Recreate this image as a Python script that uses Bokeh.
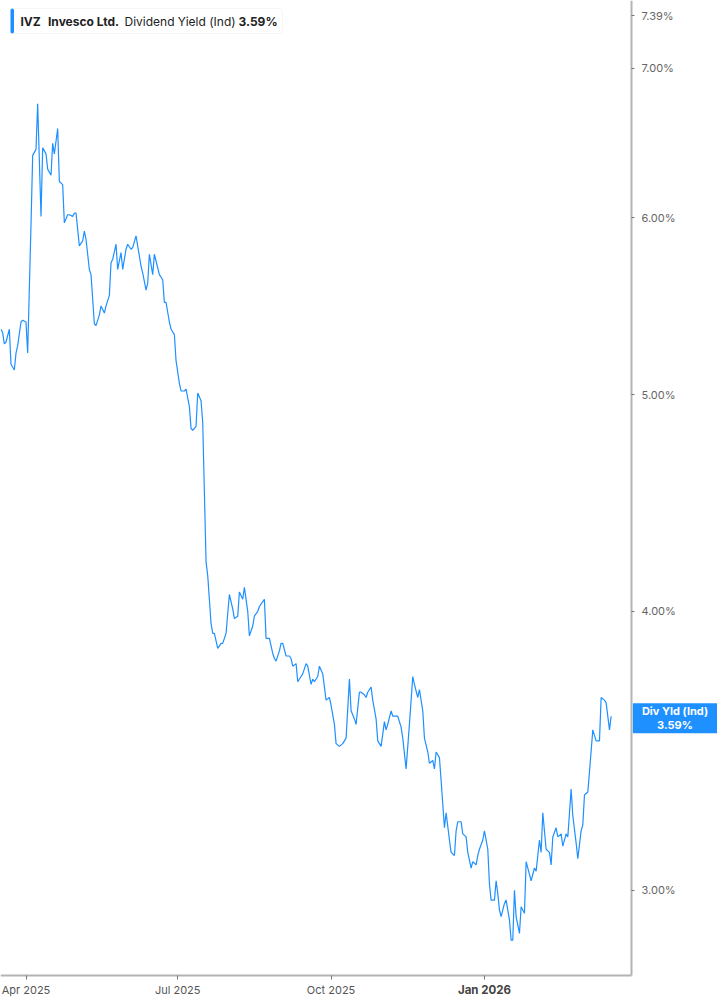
import math
import pandas as pd
from bokeh.plotting import figure
from bokeh.models import (ColumnDataSource, FixedTicker, PrintfTickFormatter,
                          DatetimeTickFormatter, Range1d, Label, BoxAnnotation)
from bokeh.embed import file_html
from bokeh.resources import INLINE

# ---------------- data ----------------
dates = [
    "2025-03-17", "2025-03-18", "2025-03-19", "2025-03-20", "2025-03-22", "2025-03-23",
    "2025-03-25", "2025-03-26", "2025-03-27", "2025-03-29", "2025-03-30", "2025-04-01",
    "2025-04-02", "2025-04-04", "2025-04-05", "2025-04-07", "2025-04-08", "2025-04-10",
    "2025-04-11", "2025-04-13", "2025-04-14", "2025-04-16", "2025-04-17", "2025-04-18",
    "2025-04-20", "2025-04-21", "2025-04-23", "2025-04-24", "2025-04-26", "2025-04-27",
    "2025-04-29", "2025-04-30", "2025-05-01", "2025-05-03", "2025-05-05", "2025-05-06",
    "2025-05-07", "2025-05-09", "2025-05-10", "2025-05-12", "2025-05-13", "2025-05-15",
    "2025-05-16", "2025-05-18", "2025-05-19", "2025-05-21", "2025-05-22", "2025-05-23",
    "2025-05-25", "2025-05-26", "2025-05-28", "2025-05-29", "2025-05-31", "2025-06-01",
    "2025-06-03", "2025-06-04", "2025-06-06", "2025-06-07", "2025-06-09", "2025-06-10",
    "2025-06-12", "2025-06-13", "2025-06-14", "2025-06-16", "2025-06-17", "2025-06-19",
    "2025-06-20", "2025-06-22", "2025-06-23", "2025-06-24", "2025-06-26", "2025-06-27",
    "2025-06-29", "2025-06-30", "2025-07-02", "2025-07-03", "2025-07-05", "2025-07-06",
    "2025-07-08", "2025-07-09", "2025-07-10", "2025-07-12", "2025-07-13", "2025-07-15",
    "2025-07-16", "2025-07-18", "2025-07-19", "2025-07-21", "2025-07-22", "2025-07-23",
    "2025-07-25", "2025-07-27", "2025-07-28", "2025-07-30", "2025-07-31", "2025-08-01",
    "2025-08-03", "2025-08-04", "2025-08-06", "2025-08-07", "2025-08-09", "2025-08-10",
    "2025-08-12", "2025-08-13", "2025-08-15", "2025-08-16", "2025-08-18", "2025-08-19",
    "2025-08-21", "2025-08-22", "2025-08-23", "2025-08-25", "2025-08-26", "2025-08-27",
    "2025-08-28", "2025-08-29", "2025-08-31", "2025-09-01", "2025-09-02", "2025-09-04",
    "2025-09-06", "2025-09-07", "2025-09-08", "2025-09-10", "2025-09-11", "2025-09-13",
    "2025-09-14", "2025-09-16", "2025-09-17", "2025-09-19", "2025-09-20", "2025-09-21",
    "2025-09-23", "2025-09-24", "2025-09-26", "2025-09-27", "2025-09-28", "2025-09-30",
    "2025-10-01", "2025-10-03", "2025-10-04", "2025-10-06", "2025-10-08", "2025-10-09",
    "2025-10-10", "2025-10-12", "2025-10-13", "2025-10-15", "2025-10-16", "2025-10-18",
    "2025-10-19", "2025-10-21", "2025-10-22", "2025-10-23", "2025-10-25", "2025-10-26",
    "2025-10-28", "2025-10-29", "2025-10-31", "2025-11-02", "2025-11-03", "2025-11-04",
    "2025-11-06", "2025-11-07", "2025-11-09", "2025-11-10", "2025-11-12", "2025-11-13",
    "2025-11-15", "2025-11-16", "2025-11-17", "2025-11-19", "2025-11-20", "2025-11-22",
    "2025-11-23", "2025-11-25", "2025-11-26", "2025-11-28", "2025-11-29", "2025-12-01",
    "2025-12-02", "2025-12-03", "2025-12-05", "2025-12-06", "2025-12-08", "2025-12-09",
    "2025-12-11", "2025-12-12", "2025-12-14", "2025-12-15", "2025-12-16", "2025-12-18",
    "2025-12-19", "2025-12-21", "2025-12-22", "2025-12-24", "2025-12-25", "2025-12-27",
    "2025-12-28", "2025-12-29", "2025-12-31", "2026-01-01", "2026-01-03", "2026-01-04",
    "2026-01-05", "2026-01-07", "2026-01-08", "2026-01-09", "2026-01-10", "2026-01-11",
    "2026-01-13", "2026-01-14", "2026-01-16", "2026-01-17", "2026-01-18", "2026-01-19",
    "2026-01-20", "2026-01-22", "2026-01-23", "2026-01-25", "2026-01-26", "2026-01-28",
    "2026-01-29", "2026-01-31", "2026-02-01", "2026-02-03", "2026-02-04", "2026-02-05",
    "2026-02-07", "2026-02-09", "2026-02-10", "2026-02-11", "2026-02-13", "2026-02-14",
    "2026-02-16", "2026-02-17", "2026-02-19", "2026-02-20", "2026-02-22", "2026-02-23",
    "2026-02-25", "2026-02-26", "2026-02-28", "2026-03-01", "2026-03-02", "2026-03-04",
    "2026-03-05", "2026-03-07", "2026-03-08", "2026-03-09", "2026-03-11", "2026-03-12",
    "2026-03-14", "2026-03-15", "2026-03-17", "2026-03-18",
]
yields = [
    5.35, 5.33, 5.27, 5.28, 5.35, 5.16,
    5.13, 5.22, 5.26, 5.39, 5.40, 5.39,
    5.22, 5.96, 6.40, 6.44, 6.75, 6.01,
    6.45, 6.41, 6.31, 6.27, 6.48, 6.41,
    6.58, 6.23, 6.21, 5.97, 6.02, 6.02,
    6.01, 6.03, 6.03, 5.83, 5.86, 5.92,
    5.87, 5.69, 5.66, 5.38, 5.37, 5.43,
    5.48, 5.44, 5.48, 5.54, 5.73, 5.75,
    5.84, 5.69, 5.79, 5.69, 5.81, 5.84,
    5.81, 5.82, 5.89, 5.83, 5.71, 5.67,
    5.57, 5.61, 5.78, 5.66, 5.78, 5.70,
    5.66, 5.63, 5.50, 5.50, 5.39, 5.35,
    5.32, 5.18, 5.06, 5.02, 5.02, 5.03,
    4.94, 4.83, 4.82, 4.84, 5.01, 4.97,
    4.86, 4.21, 4.15, 3.95, 3.91, 3.91,
    3.85, 3.87, 3.87, 3.91, 3.99, 4.07,
    4.01, 3.97, 3.98, 4.08, 4.05, 4.10,
    4.00, 3.90, 3.94, 3.98, 4.00, 4.02,
    4.04, 4.05, 3.89, 3.89, 3.86, 3.83,
    3.81, 3.80, 3.84, 3.87, 3.87, 3.82,
    3.82, 3.81, 3.78, 3.79, 3.72, 3.74,
    3.75, 3.79, 3.78, 3.71, 3.73, 3.72,
    3.74, 3.78, 3.75, 3.70, 3.65, 3.66,
    3.63, 3.56, 3.49, 3.48, 3.49, 3.50,
    3.51, 3.73, 3.61, 3.58, 3.56, 3.68,
    3.68, 3.67, 3.66, 3.68, 3.70, 3.65,
    3.58, 3.50, 3.48, 3.57, 3.54, 3.56,
    3.61, 3.59, 3.59, 3.59, 3.55, 3.51,
    3.40, 3.48, 3.56, 3.74, 3.71, 3.66,
    3.69, 3.61, 3.51, 3.46, 3.42, 3.43,
    3.40, 3.46, 3.44, 3.36, 3.20, 3.25,
    3.16, 3.12, 3.11, 3.19, 3.22, 3.22,
    3.18, 3.17, 3.12, 3.07, 3.09, 3.08,
    3.11, 3.13, 3.16, 3.19, 3.13, 3.02,
    2.97, 2.97, 3.03, 2.99, 2.94, 2.92,
    2.96, 2.97, 2.91, 2.85, 2.85, 3.00,
    2.92, 2.87, 2.95, 2.93, 3.09, 3.05,
    3.03, 3.07, 3.06, 3.16, 3.12, 3.25,
    3.13, 3.12, 3.08, 3.17, 3.20, 3.17,
    3.18, 3.14, 3.18, 3.17, 3.33, 3.24,
    3.15, 3.10, 3.19, 3.21, 3.31, 3.32,
    3.39, 3.54, 3.52, 3.50, 3.50, 3.66,
    3.65, 3.64, 3.54, 3.59,
]

symbol = "IVZ"
company = "Invesco Ltd."
metric = "Dividend Yield (Ind)"
short_metric = "Div Yld (Ind)"

y_ticks = [3.0, 4.0, 5.0, 6.0, 7.0, 7.39]
x_tick_dates = ["2025-04-01", "2025-07-01", "2025-10-01", "2026-01-01"]
x_tick_labels = ["Apr 2025", "Jul 2025", "Oct 2025", "Jan 2026"]
bold_x_label = "Jan 2026"

# visible axis extent (dates / yield)
x_start, x_axis_end = "2025-03-16 16:48", "2026-03-30 05:00"
y_min, y_max = 2.748, 7.508

# ---------------- layout / style ----------------
W, H = 717, 1005
AXIS_X_PX = 631      # right axis position (px from left)
AXIS_Y_PX = 975      # bottom axis position (px from top)
BLUE = "#1E90FF"
FONT = "Inter"
AXIS_GREY = "#b4b4b4"
LABEL_GREY = "#666666"

last_value = yields[-1]

# the frame covers the whole canvas; axes are pinned at fixed locations inside it
start_ms = pd.Timestamp(x_start).value / 1e6
axis_end_ms = pd.Timestamp(x_axis_end).value / 1e6
range_end_ms = axis_end_ms + (W - AXIS_X_PX) / AXIS_X_PX * (axis_end_ms - start_ms)
log_span = math.log(y_max) - math.log(y_min)
range_low = math.exp(math.log(y_min) - (H - AXIS_Y_PX) / AXIS_Y_PX * log_span)

src = ColumnDataSource(dict(date=pd.to_datetime(dates), yld=yields))

p = figure(
    width=W, height=H,
    x_axis_type="datetime", y_axis_type="log", y_axis_location="right",
    x_range=Range1d(start_ms, range_end_ms),
    y_range=Range1d(range_low, y_max),
    output_backend="svg", toolbar_location=None, min_border=0,
)
p.outline_line_color = None
p.background_fill_color = "white"
p.border_fill_color = "white"
p.xgrid.visible = False
p.ygrid.visible = False

p.line("date", "yld", source=src, line_color=BLUE, line_width=1.2)

# y axis (right, log), pinned at the end date
ya = p.yaxis[0]
ya.fixed_location = axis_end_ms
ya.bounds = (y_min, y_max)
ya.ticker = FixedTicker(ticks=y_ticks)
ya.formatter = PrintfTickFormatter(format="%.2f%%")
ya.axis_line_color = AXIS_GREY
ya.axis_line_width = 2
ya.major_tick_out = 3
ya.major_tick_in = 0
ya.major_tick_line_color = "#777777"
ya.minor_tick_line_color = None
ya.major_label_standoff = 7
ya.major_label_text_font = FONT
ya.major_label_text_font_size = "11px"
ya.major_label_text_color = LABEL_GREY

# x axis (bottom, dates), pinned at the lowest yield of the axis
tick_ms = [pd.Timestamp(d).value / 1e6 for d in x_tick_dates]
xa = p.xaxis[0]
xa.fixed_location = y_min
xa.bounds = (start_ms, axis_end_ms)
xa.ticker = FixedTicker(ticks=tick_ms)
xa.formatter = DatetimeTickFormatter(months="%b %Y", days="%b %Y", years="%b %Y")
xa.major_label_overrides = {
    t: ("" if lab == bold_x_label else lab) for t, lab in zip(tick_ms, x_tick_labels)
}
xa.axis_line_color = AXIS_GREY
xa.axis_line_width = 2
xa.major_tick_out = 4
xa.major_tick_in = 0
xa.major_tick_line_color = "#777777"
xa.minor_tick_line_color = None
xa.major_label_standoff = 3
xa.major_label_text_font = FONT
xa.major_label_text_font_size = "11px"
xa.major_label_text_color = "#555555"

for t, lab in zip(tick_ms, x_tick_labels):
    if lab == bold_x_label:
        p.add_layout(Label(
            x=t, y=H - 989, y_units="screen", text=lab,
            text_align="center", text_baseline="middle",
            text_font=FONT, text_font_size="11.5px", text_font_style="bold",
            text_color="#444444"))

# last value flag on the axis
p.add_layout(Label(
    x=axis_end_ms, y=last_value, x_offset=43.5, y_offset=-2,
    text=f"{short_metric}\n{last_value:.2f}%",
    text_align="center", text_baseline="middle",
    text_font=FONT, text_font_size="11px", text_font_style="bold",
    text_color="white", text_line_height=1.0,
    background_fill_color=BLUE,
    padding=dict(left=9, right=9, top=1, bottom=1)))

# header legend box
p.add_layout(BoxAnnotation(
    left=10, right=282, bottom=H - 33, top=H - 8,
    left_units="screen", right_units="screen", top_units="screen", bottom_units="screen",
    fill_color="white", fill_alpha=1.0, line_color="#e2e2e2", line_width=1,
    border_radius=3))
p.add_layout(BoxAnnotation(
    left=10, right=13.5, bottom=H - 33, top=H - 8,
    left_units="screen", right_units="screen", top_units="screen", bottom_units="screen",
    fill_color=BLUE, fill_alpha=1.0, line_color=None, border_radius=2))

header_parts = [
    (symbol, 20, "bold"),
    (company, 47.5, "bold"),
    (metric, 124, "normal"),
    (f"{last_value:.2f}%", 238, "bold"),
]
for txt, xpos, style in header_parts:
    p.add_layout(Label(
        x=xpos, y=H - 21, x_units="screen", y_units="screen", text=txt,
        text_align="left", text_baseline="middle",
        text_font=FONT, text_font_size="12px", text_font_style=style,
        text_color="#222222"))

open("out.html", "w").write(file_html(p, INLINE))
